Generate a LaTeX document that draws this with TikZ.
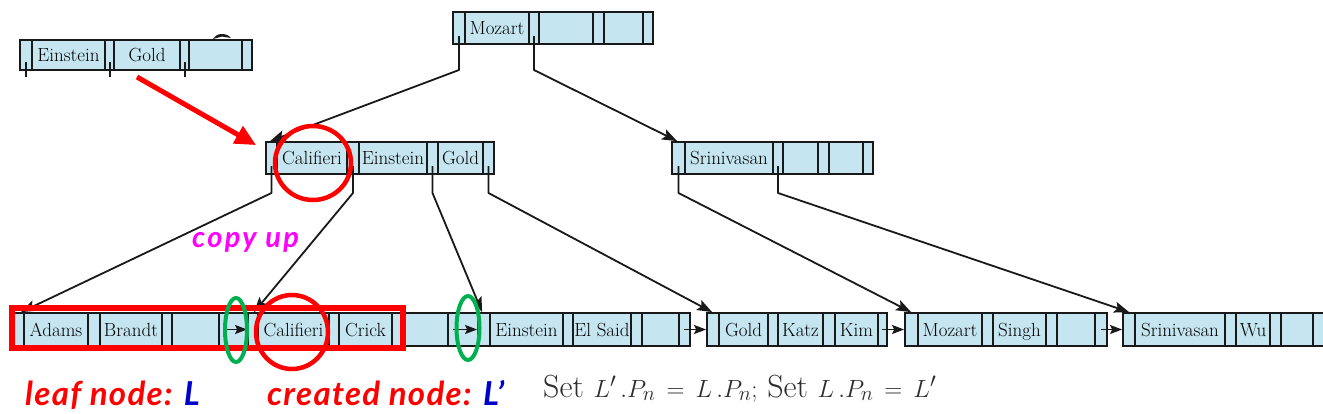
\documentclass[tikz,border=0pt]{standalone}
\usepackage{fontspec}
\newfontfamily\lblfont{Lato}[LetterSpace=4]
\newfontfamily\cufont{Lato}[LetterSpace=8]
\usetikzlibrary{arrows.meta,calc}
\definecolor{cellblue}{RGB}{197,230,240}
\definecolor{lineblack}{RGB}{25,25,25}
\definecolor{annred}{RGB}{255,0,0}
\definecolor{anngreen}{RGB}{0,176,80}
\definecolor{annmag}{RGB}{255,0,255}
\definecolor{annblue}{RGB}{0,0,204}
\definecolor{mathgray}{RGB}{45,45,45}
\newcommand\bpbox[5]{\node[bnode, minimum width={#3-#2}, minimum height={#5-#4}] (#1) at ({(#2+#3)/2},{(#4+#5)/2}) {};}
\newcommand\bpdiv[3]{\foreach \xx in {#3} {\draw[divider] (\xx,#1) -- (\xx,#2);}}
\begin{document}
\begin{tikzpicture}[x=1pt,y=-1pt,
  bnode/.style={draw=lineblack, fill=cellblue, line width=1.8pt, inner sep=0pt, rectangle},
  keytext/.style={font=\fontsize{19}{21}\selectfont, inner sep=0pt, text=black, anchor=base},
  divider/.style={draw=lineblack, line width=1.4pt},
  ptr/.style={draw=lineblack, line width=1.8pt, line join=round, -{Stealth[length=15pt,width=11pt,inset=3pt]}},
  stub/.style={draw=lineblack, line width=1.3pt},
  nextptr/.style={draw=lineblack, line width=1.5pt, -{Stealth[length=12pt,width=9pt,inset=2pt]}},
  redmark/.style={draw=annred, line width=4.5pt},
  greenmark/.style={draw=anngreen, line width=4pt},
  lbl/.style={inner sep=0pt, anchor=base west, font=\lblfont\bfseries\itshape\fontsize{33}{35}\selectfont}
]
\fill[white] (0,0) rectangle (1323,413);
\clip (0,0) rectangle (1323,413);

% ---- root node ----
\bpbox{mz}{453}{653}{12}{44}
\bpdiv{12}{44}{465,529,539,593,604,643}
\node[keytext] (tmz) at (497,34.5) {Mozart};

% ---- floating node ----
\bpbox{fl}{20}{252}{40}{70}
\bpdiv{40}{70}{32,105,114,180,189,242}
\node[keytext] (tfl1) at (68.5,61.5) {Einstein};
\node[keytext] (tfl2) at (147,61.5) {Gold};
\foreach \xx in {26,110,185} {\draw[stub] (\xx,62) -- (\xx,77);}
\fill[lineblack] (213,39) .. controls (216,33) and (226,32) .. (231,38) -- (222,36.5) -- cycle;

% ---- level 2 ----
\bpbox{ca}{266}{494}{142}{174}
\bpdiv{142}{174}{277,347,359,427,438,483}
\node[keytext] (tca1) at (312,164.5) {Califieri};
\node[keytext] (tca2) at (393,164.5) {Einstein};
\node[keytext] (tca3) at (460.5,164.5) {Gold};

\bpbox{sr}{672}{873}{142}{174}
\bpdiv{142}{174}{685,773,783,818,829,863}
\node[keytext] (tsr1) at (729,164.5) {Srinivasan};

% ---- leaves ----
\bpbox{lfA}{13}{248}{313}{346}
\bpdiv{313}{346}{24,88,100,162,172,219}
\node[keytext] (tA1) at (56,336) {Adams};
\node[keytext] (tA2) at (131,336) {Brandt};

\bpbox{lfB}{248}{478}{313}{346}
\bpdiv{313}{346}{258,329,339,392,402,448}
\node[keytext] (tB1) at (293.5,336) {Califieri};
\node[keytext] (tB2) at (365.5,336) {Crick};

\bpbox{lfC}{478}{690}{313}{346}
\bpdiv{313}{346}{490,563,573,631,642,679}
\node[keytext] (tC1) at (526.5,336) {Einstein};
\node[keytext] (tC2) at (602,336) {El Said};

\bpbox{lfD}{707}{887}{313}{346}
\bpdiv{313}{346}{719,768,778,823,835,878}
\node[keytext] (tD1) at (743.5,336) {Gold};
\node[keytext] (tD2) at (800.5,336) {Katz};
\node[keytext] (tD3) at (856.5,336) {Kim};

\bpbox{lfE}{905}{1107}{313}{346}
\bpdiv{313}{346}{918,982,993,1046,1057,1095}
\node[keytext] (tE1) at (950,336) {Mozart};
\node[keytext] (tE2) at (1019.5,336) {Singh};

\bpbox{lfF}{1123}{1335}{313}{346}
\bpdiv{313}{346}{1135,1225,1236,1270,1281,1313}
\node[keytext] (tF1) at (1180,336) {Srinivasan};
\node[keytext] (tF2) at (1253,336) {Wu};

% ---- pointer start points ----
\coordinate (mzA) at (459,36);
\coordinate (mzB) at (534,36);
\coordinate (caA) at (271.5,166);
\coordinate (caB) at (353,166);
\coordinate (caC) at (432.5,166);
\coordinate (caD) at (488.5,166);
\coordinate (srA) at (678.5,166);
\coordinate (srB) at (778,166);
\coordinate (nA) at (223,329.5);
\coordinate (nB) at (453,329.5);
\coordinate (nC) at (684,329.5);
\coordinate (nD) at (882,329.5);
\coordinate (nE) at (1101,329.5);

% ---- tree pointers ----
\draw[ptr] (mzA) -- ++(0,34) -- ($(ca.north west)+(5,0)$);
\draw[ptr] (mzB) -- ++(0,34) -- ($(sr.north west)+(6,0)$);
\draw[ptr] (caA) -- ++(0,27) -- ($(lfA.north west)+(9,0)$);
\draw[ptr] (caB) -- ++(0,27) -- ($(lfB.north west)+(7,0)$);
\draw[ptr] (caC) -- ++(0,27) -- ($(lfC.north west)+(5,0)$);
\draw[ptr] (caD) -- ++(0,27) -- ($(lfD.north west)+(6,0)$);
\draw[ptr] (srA) -- ++(0,27) -- ($(lfE.north west)+(7,0)$);
\draw[ptr] (srB) -- ++(0,27) -- ($(lfF.north west)+(7,0)$);

% ---- leaf chain ----
\draw[nextptr] (nA) -- (lfB.west);
\draw[nextptr] (nB) -- (lfC.west);
\draw[nextptr] (nC) -- (lfD.west);
\draw[nextptr] (nD) -- (lfE.west);
\draw[nextptr] (nE) -- (lfF.west);

% ---- annotations ----
\coordinate (rs) at (137,77);
\draw[draw=annred, line width=5pt, -{Triangle[length=21pt,width=19pt]}] (rs) -- ($(ca.north west)+(-9,4)$);
\draw[redmark] (313,163) ellipse [x radius=38, y radius=37];
\draw[redmark, line width=5.5pt] (12,308) rectangle (403,348);
\draw[redmark] (292,332) ellipse [x radius=36, y radius=37];
\draw[greenmark] (236,330) ellipse [x radius=11, y radius=32];
\draw[greenmark] (468,328) ellipse [x radius=11.5, y radius=32];

\node[inner sep=0pt, anchor=base west, text=annmag, font=\cufont\bfseries\itshape\fontsize{29}{31}\selectfont] (cu) at (192,247) {copy up};
\node[lbl] (lblL) at (25,405) {\textcolor{annred}{leaf node:} \textcolor{annblue}{L}};
\node[lbl] (lblLp) at (267,405) {\textcolor{annred}{created node:} \textcolor{annblue}{L’}};
\node[inner sep=0pt, anchor=base west, text=mathgray, font=\fontsize{32}{34}\selectfont] (eq) at (543,397)
  {Set $L'\,.P_n \,=\, L\,.P_n;$ Set $L\,.P_n \,=\, L'$};
\end{tikzpicture}
\end{document}
